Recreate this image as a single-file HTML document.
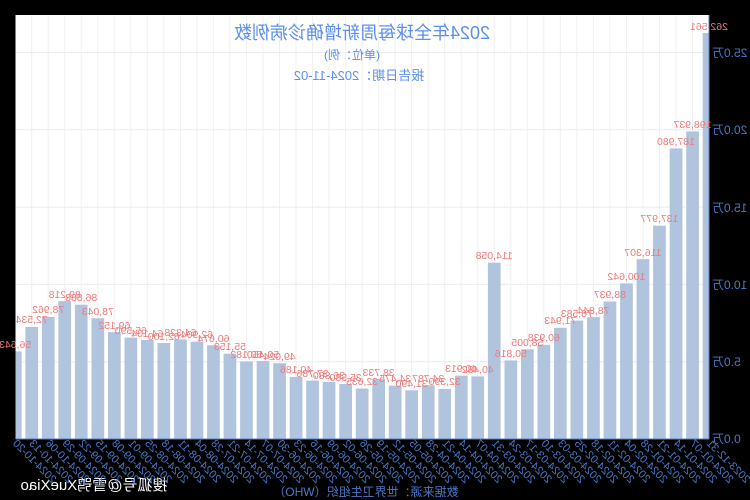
<!DOCTYPE html>
<html><head><meta charset="utf-8"><style>
html,body{margin:0;padding:0;background:#000;width:750px;height:500px;overflow:hidden}
svg{display:block}
text{font-family:"Liberation Sans","Noto Sans CJK SC",sans-serif}
</style></head><body>
<svg width="750" height="500" viewBox="0 0 750 500" xmlns="http://www.w3.org/2000/svg">
<rect width="750" height="500" fill="#000"/>
<g transform="translate(750,0) scale(-1,1)">
<defs><clipPath id="c"><rect x="41" y="15" width="693.5" height="424"/></clipPath></defs>
<rect x="41" y="15" width="693.5" height="424" fill="#fff"/>
<g stroke="#f0f0f0" stroke-width="1">
<line x1="57.5" x2="57.5" y1="15" y2="439"/><line x1="74" x2="74" y1="15" y2="439"/><line x1="90.6" x2="90.6" y1="15" y2="439"/><line x1="107.1" x2="107.1" y1="15" y2="439"/><line x1="123.6" x2="123.6" y1="15" y2="439"/><line x1="140.1" x2="140.1" y1="15" y2="439"/><line x1="156.6" x2="156.6" y1="15" y2="439"/><line x1="173.2" x2="173.2" y1="15" y2="439"/><line x1="189.7" x2="189.7" y1="15" y2="439"/><line x1="206.2" x2="206.2" y1="15" y2="439"/><line x1="222.7" x2="222.7" y1="15" y2="439"/><line x1="239.2" x2="239.2" y1="15" y2="439"/><line x1="255.8" x2="255.8" y1="15" y2="439"/><line x1="272.3" x2="272.3" y1="15" y2="439"/><line x1="288.8" x2="288.8" y1="15" y2="439"/><line x1="305.3" x2="305.3" y1="15" y2="439"/><line x1="321.8" x2="321.8" y1="15" y2="439"/><line x1="338.4" x2="338.4" y1="15" y2="439"/><line x1="354.9" x2="354.9" y1="15" y2="439"/><line x1="371.4" x2="371.4" y1="15" y2="439"/><line x1="387.9" x2="387.9" y1="15" y2="439"/><line x1="404.4" x2="404.4" y1="15" y2="439"/><line x1="421" x2="421" y1="15" y2="439"/><line x1="437.5" x2="437.5" y1="15" y2="439"/><line x1="454" x2="454" y1="15" y2="439"/><line x1="470.5" x2="470.5" y1="15" y2="439"/><line x1="487" x2="487" y1="15" y2="439"/><line x1="503.6" x2="503.6" y1="15" y2="439"/><line x1="520.1" x2="520.1" y1="15" y2="439"/><line x1="536.6" x2="536.6" y1="15" y2="439"/><line x1="553.1" x2="553.1" y1="15" y2="439"/><line x1="569.6" x2="569.6" y1="15" y2="439"/><line x1="586.2" x2="586.2" y1="15" y2="439"/><line x1="602.7" x2="602.7" y1="15" y2="439"/><line x1="619.2" x2="619.2" y1="15" y2="439"/><line x1="635.7" x2="635.7" y1="15" y2="439"/><line x1="652.2" x2="652.2" y1="15" y2="439"/><line x1="668.8" x2="668.8" y1="15" y2="439"/><line x1="685.3" x2="685.3" y1="15" y2="439"/><line x1="701.8" x2="701.8" y1="15" y2="439"/><line x1="718.3" x2="718.3" y1="15" y2="439"/>
</g>
<g stroke="#ececec" stroke-width="1">
<line x1="41" x2="734" y1="361.7" y2="361.7"/><line x1="41" x2="734" y1="284.4" y2="284.4"/>
<line x1="41" x2="734" y1="207.1" y2="207.1"/><line x1="41" x2="734" y1="129.8" y2="129.8"/>
<line x1="41" x2="734" y1="52.5" y2="52.5"/>
</g>
<g clip-path="url(#c)" fill="#b0c4de">
<rect x="34.6" y="33" width="12.7" height="406"/>
<rect x="51.1" y="131.4" width="12.7" height="307.6"/>
<rect x="67.6" y="148.4" width="12.7" height="290.6"/>
<rect x="84.2" y="225.7" width="12.7" height="213.3"/>
<rect x="100.7" y="259.2" width="12.7" height="179.8"/>
<rect x="117.2" y="283.4" width="12.7" height="155.6"/>
<rect x="133.7" y="301.5" width="12.7" height="137.5"/>
<rect x="150.2" y="317.1" width="12.7" height="121.9"/>
<rect x="166.8" y="320.6" width="12.7" height="118.4"/>
<rect x="183.3" y="327.8" width="12.7" height="111.2"/>
<rect x="199.8" y="344.8" width="12.7" height="94.2"/>
<rect x="216.3" y="349.3" width="12.7" height="89.7"/>
<rect x="232.8" y="360.4" width="12.7" height="78.6"/>
<rect x="249.4" y="262.7" width="12.7" height="176.3"/>
<rect x="265.9" y="376.4" width="12.7" height="62.6"/>
<rect x="282.4" y="375.7" width="12.7" height="63.3"/>
<rect x="298.9" y="388.9" width="12.7" height="50.1"/>
<rect x="315.4" y="385.2" width="12.7" height="53.8"/>
<rect x="332" y="390.3" width="12.7" height="48.7"/>
<rect x="348.5" y="385.7" width="12.7" height="53.3"/>
<rect x="365" y="379.1" width="12.7" height="59.9"/>
<rect x="381.5" y="388.5" width="12.7" height="50.5"/>
<rect x="398" y="384" width="12.7" height="55"/>
<rect x="414.6" y="382" width="12.7" height="57"/>
<rect x="431.1" y="380.6" width="12.7" height="58.4"/>
<rect x="447.6" y="376.9" width="12.7" height="62.1"/>
<rect x="464.1" y="363.2" width="12.7" height="75.8"/>
<rect x="480.6" y="361" width="12.7" height="78"/>
<rect x="497.2" y="361.4" width="12.7" height="77.6"/>
<rect x="513.7" y="353.7" width="12.7" height="85.3"/>
<rect x="530.2" y="345.2" width="12.7" height="93.8"/>
<rect x="546.7" y="341.7" width="12.7" height="97.3"/>
<rect x="563.2" y="339.5" width="12.7" height="99.5"/>
<rect x="579.8" y="343" width="12.7" height="96"/>
<rect x="596.3" y="339.9" width="12.7" height="99.1"/>
<rect x="612.8" y="337.6" width="12.7" height="101.4"/>
<rect x="629.3" y="332.1" width="12.7" height="106.9"/>
<rect x="645.8" y="318.3" width="12.7" height="120.7"/>
<rect x="662.4" y="304.7" width="12.7" height="134.3"/>
<rect x="678.9" y="301.1" width="12.7" height="137.9"/>
<rect x="695.4" y="316.9" width="12.7" height="122.1"/>
<rect x="711.9" y="326.9" width="12.7" height="112.1"/>
<rect x="728.4" y="351.4" width="12.7" height="87.6"/>
</g>
<line x1="41" y1="15" x2="41" y2="439" stroke="#5b7fc0"/>
<line x1="41" x2="734" y1="439" y2="439" stroke="#5b7fc0"/>
<g fill="#4a78c8" font-size="12" text-anchor="end">
<text x="38" y="443">0.0万</text><text x="38" y="366">5.0万</text><text x="38" y="289">10.0万</text>
<text x="38" y="212">15.0万</text><text x="38" y="134">20.0万</text><text x="38" y="57">25.0万</text>
</g>
<text x="388" y="39" text-anchor="middle" font-size="18" fill="#5b8ff0">2024年全球每周新增确诊病例数</text>
<text x="398" y="59" text-anchor="middle" font-size="12" fill="#5b8ff0">(单位：例)</text>
<text x="391" y="80" text-anchor="middle" font-size="13" fill="#5b8ff0">报告日期：2024-11-02</text>
<text x="384" y="496" text-anchor="middle" font-size="12" fill="#4a78c8">数据来源：世界卫生组织（WHO）</text>
<text x="656" y="490" text-anchor="middle" font-size="15" fill="#fff">搜狐号@雪鸮XueXiao</text>
<g fill="#f07878" font-size="10.5" text-anchor="middle">
<text x="41" y="30">262,561</text><text x="57.5" y="128">198,937</text><text x="74" y="145">187,980</text>
<text x="90.6" y="222">137,977</text><text x="107.1" y="256">116,307</text><text x="123.6" y="280">100,642</text>
<text x="140.1" y="298">88,937</text><text x="156.6" y="314">78,844</text><text x="173.2" y="317">76,583</text>
<text x="189.7" y="324">71,943</text><text x="206.2" y="341">60,938</text><text x="222.7" y="346">58,005</text>
<text x="239.2" y="357">50,816</text><text x="255.8" y="259">114,058</text><text x="272.3" y="373">40,482</text>
<text x="288.8" y="372">40,913</text><text x="305.3" y="385">32,390</text><text x="321.8" y="382">34,787</text>
<text x="338.4" y="387">31,490</text><text x="354.9" y="382">34,475</text><text x="371.4" y="376">38,733</text>
<text x="387.9" y="385">32,635</text><text x="404.4" y="381">35,580</text><text x="421" y="379">36,880</text>
<text x="437.5" y="377">37,786</text><text x="454" y="373">40,186</text><text x="470.5" y="360">49,024</text>
<text x="487" y="358">50,450</text><text x="503.6" y="358">50,182</text><text x="520.1" y="350">55,153</text>
<text x="536.6" y="342">60,674</text><text x="553.1" y="338">62,904</text><text x="569.6" y="336">64,328</text>
<text x="586.2" y="340">62,100</text><text x="602.7" y="337">64,104</text><text x="619.2" y="334">65,590</text>
<text x="635.7" y="329">69,152</text><text x="652.2" y="315">78,043</text><text x="668.8" y="301">86,888</text>
<text x="685.3" y="298">89,218</text><text x="701.8" y="313">78,962</text><text x="718.3" y="323">72,534</text>
<text x="734.8" y="348">56,643</text>
</g>
<g fill="#4a78c8" font-size="11" text-anchor="end">
<text transform="translate(44,444) rotate(-45)">2023-12-31</text>
<text transform="translate(60.5,444) rotate(-45)">2024-01-07</text>
<text transform="translate(77,444) rotate(-45)">2024-01-14</text>
<text transform="translate(93.6,444) rotate(-45)">2024-01-21</text>
<text transform="translate(110.1,444) rotate(-45)">2024-01-28</text>
<text transform="translate(126.6,444) rotate(-45)">2024-02-04</text>
<text transform="translate(143.1,444) rotate(-45)">2024-02-11</text>
<text transform="translate(159.6,444) rotate(-45)">2024-02-18</text>
<text transform="translate(176.2,444) rotate(-45)">2024-02-25</text>
<text transform="translate(192.7,444) rotate(-45)">2024-03-03</text>
<text transform="translate(209.2,444) rotate(-45)">2024-03-10</text>
<text transform="translate(225.7,444) rotate(-45)">2024-03-17</text>
<text transform="translate(242.2,444) rotate(-45)">2024-03-24</text>
<text transform="translate(258.8,444) rotate(-45)">2024-03-31</text>
<text transform="translate(275.3,444) rotate(-45)">2024-04-07</text>
<text transform="translate(291.8,444) rotate(-45)">2024-04-14</text>
<text transform="translate(308.3,444) rotate(-45)">2024-04-21</text>
<text transform="translate(324.8,444) rotate(-45)">2024-04-28</text>
<text transform="translate(341.4,444) rotate(-45)">2024-05-05</text>
<text transform="translate(357.9,444) rotate(-45)">2024-05-12</text>
<text transform="translate(374.4,444) rotate(-45)">2024-05-19</text>
<text transform="translate(390.9,444) rotate(-45)">2024-05-26</text>
<text transform="translate(407.4,444) rotate(-45)">2024-06-02</text>
<text transform="translate(424,444) rotate(-45)">2024-06-09</text>
<text transform="translate(440.5,444) rotate(-45)">2024-06-16</text>
<text transform="translate(457,444) rotate(-45)">2024-06-23</text>
<text transform="translate(473.5,444) rotate(-45)">2024-06-30</text>
<text transform="translate(490,444) rotate(-45)">2024-07-07</text>
<text transform="translate(506.6,444) rotate(-45)">2024-07-14</text>
<text transform="translate(523.1,444) rotate(-45)">2024-07-21</text>
<text transform="translate(539.6,444) rotate(-45)">2024-07-28</text>
<text transform="translate(556.1,444) rotate(-45)">2024-08-04</text>
<text transform="translate(572.6,444) rotate(-45)">2024-08-11</text>
<text transform="translate(589.2,444) rotate(-45)">2024-08-18</text>
<text transform="translate(605.7,444) rotate(-45)">2024-08-25</text>
<text transform="translate(622.2,444) rotate(-45)">2024-09-01</text>
<text transform="translate(638.7,444) rotate(-45)">2024-09-08</text>
<text transform="translate(655.2,444) rotate(-45)">2024-09-15</text>
<text transform="translate(671.8,444) rotate(-45)">2024-09-22</text>
<text transform="translate(688.3,444) rotate(-45)">2024-09-29</text>
<text transform="translate(704.8,444) rotate(-45)">2024-10-06</text>
<text transform="translate(721.3,444) rotate(-45)">2024-10-13</text>
<text transform="translate(737.8,444) rotate(-45)">2024-10-20</text>
</g>
</g>
</svg>
</body></html>
